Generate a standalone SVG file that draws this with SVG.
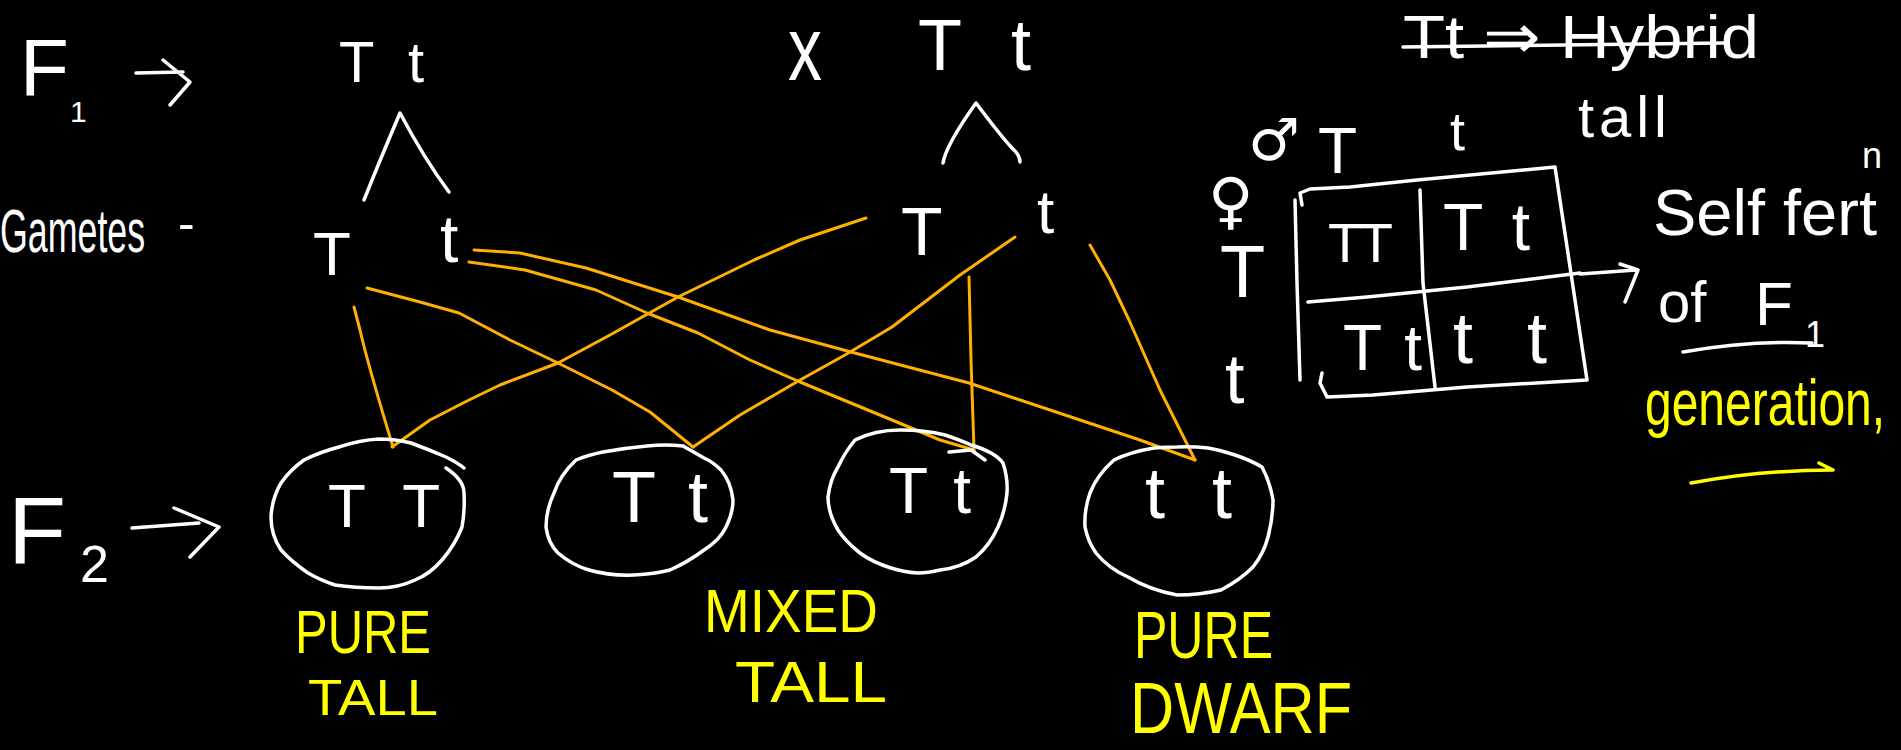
<svg xmlns="http://www.w3.org/2000/svg" width="1901" height="750" viewBox="0 0 1901 750">
<style>
.w{fill:#fff;font-family:"Liberation Sans",Arial,sans-serif}
.s{font-family:"DejaVu Sans",sans-serif;fill:#fff}
.y{fill:#ffff00;font-family:"Liberation Sans",Arial,sans-serif}
.ln{fill:none;stroke:#fff;stroke-width:3.5;stroke-linecap:round;stroke-linejoin:round}
.yl{fill:none;stroke:#ffff00;stroke-width:3.5;stroke-linecap:round;stroke-linejoin:round}
.or{fill:none;stroke:#ffb000;stroke-width:3;stroke-linecap:round;stroke-linejoin:round}
</style>
<rect width="1901" height="750" fill="#000"/>

<g id="f1-label">
<text class="w" x="20" y="95" font-size="80">F<tspan x="70" y="122" font-size="30">1</tspan></text>
<path class="ln" d="M136,73 L183,72 M163,60 L190,82 L170,105"/>
</g>

<g id="parent-left">
<text class="w" x="339" y="82" font-size="58" textLength="85" lengthAdjust="spacing">Tt</text>
<path class="ln" d="M364,200 Q380,160 400,113 Q425,160 449,192"/>
</g>

<g id="cross-sign">
<text class="w" x="788" y="80" font-size="90" textLength="34" lengthAdjust="spacingAndGlyphs">x</text>
</g>

<g id="parent-right">
<text class="w" x="918" y="70" font-size="72" textLength="113" lengthAdjust="spacing">Tt</text>
<path class="ln" d="M943,163 Q946,145 976,103 Q1000,135 1012,148 Q1020,155 1020,162"/>
</g>

<g id="gametes-label">
<text class="w" font-size="62" transform="translate(0,252) scale(0.577,1)">Gametes</text>
<text class="w" x="178" y="240" font-size="50">-</text>
</g>

<g id="gamete-left-T"><text class="w" x="313" y="275" font-size="62">T</text></g>
<g id="gamete-left-t"><text class="w" x="440" y="262" font-size="66">t</text></g>
<g id="gamete-right-T"><text class="w" x="901" y="255" font-size="68">T</text></g>
<g id="gamete-right-t"><text class="w" x="1037" y="233" font-size="62">t</text></g>

<g id="connectors">
<path class="or" d="M354,307 L360,330 Q368,365 393,447"/>
<path class="or" d="M367,288 L420,302 L459,313 L510,340 L558,363 L612,390 L650,412 L693,447"/>
<path class="or" d="M866,218 L800,240 L754,260 L678,297 L610,335 L558,363 L500,385 L469,400 L430,420 L392,447"/>
<path class="or" d="M1015,237 L960,275 L892,327 L845,355 L800,380 L740,415 L693,447"/>
<path class="or" d="M969,277 L971,360 L974,450"/>
<path class="or" d="M474,250 L520,253 L586,268 L678,297 L770,330 L851,352 L969,383 L1080,420 L1140,440 L1195,460"/>
<path class="or" d="M1090,245 L1110,280 L1129,320 L1160,390 L1195,460"/>
<path class="or" d="M469,262 L525,270 L596,290 L647,313 L698,333 L750,360 L800,382 L892,420 L940,440 L974,450"/>
</g>

<g id="f2-label">
<text class="w" x="8" y="563" font-size="95">F<tspan x="80" y="582" font-size="52">2</tspan></text>
<path class="ln" d="M132,528 L199,523 M174,508 L219,527 L190,557"/>
</g>

<g id="offspring-TT">
<path class="ln" d="M446,468 Q464,480 464,493 Q465,510 462,527 Q455,545 442,560 Q430,574 415,580 Q398,588 379,588 Q355,588 335,585 Q320,580 308,573 Q292,562 281,550 Q271,535 271,517 Q272,498 281,483 Q290,470 304,460 Q320,452 339,447 Q360,440 379,439 Q395,439 411,443 Q430,450 446,457 Q458,463 464,468"/>
<text class="w" x="328" y="527" font-size="62" textLength="112" lengthAdjust="spacing">TT</text>
<text class="y" x="295" y="653" font-size="62" textLength="136" lengthAdjust="spacingAndGlyphs">PURE</text>
<text class="y" x="308" y="715" font-size="50" textLength="130" lengthAdjust="spacingAndGlyphs">TALL</text>
</g>

<g id="offspring-Tt-1">
<path class="ln" d="M576,460 Q560,475 554,493 Q546,510 546,527 Q548,543 558,553 Q572,565 589,570 Q610,576 634,575 Q655,574 670,570 Q688,562 704,550 Q720,540 726,527 Q733,513 733,500 Q731,482 721,470 Q713,462 704,458 Q690,450 683,446 Q665,444 647,446 Q625,448 603,452 Q588,455 576,460"/>
<text class="w" x="612" y="522" font-size="72" textLength="96" lengthAdjust="spacing">Tt</text>
</g>

<g id="offspring-Tt-2">
<path class="ln" d="M971,445 Q995,452 1003,463 Q1008,478 1007,493 Q1005,512 998,527 Q990,545 976,557 Q960,568 940,570 Q928,573 918,573 Q903,572 891,568 Q872,562 860,553 Q846,542 838,530 Q828,513 828,497 Q830,480 838,467 Q845,452 855,440 Q875,430 900,430 Q925,430 945,435 Q960,440 971,445 M949,452 L971,450 L985,460"/>
<text class="w" x="889" y="513" font-size="64" textLength="82" lengthAdjust="spacing">Tt</text>
<text class="y" x="704" y="632" font-size="62" textLength="174" lengthAdjust="spacingAndGlyphs">MIXED</text>
<text class="y" x="735" y="702" font-size="58" textLength="152" lengthAdjust="spacingAndGlyphs">TALL</text>
</g>

<g id="offspring-tt">
<path class="ln" d="M1154,448 Q1130,452 1114,460 Q1097,475 1090,493 Q1084,510 1085,527 Q1088,542 1096,553 Q1108,568 1128,577 Q1150,590 1177,595 Q1200,595 1221,590 Q1240,580 1253,567 Q1264,553 1268,537 Q1273,518 1273,500 Q1270,482 1262,467 Q1250,460 1235,455 Q1220,450 1208,448 Q1190,446 1177,447 Q1165,447 1154,448"/>
<text class="w" x="1145" y="518" font-size="72" textLength="87" lengthAdjust="spacing">tt</text>
<text class="y" x="1134" y="658" font-size="66" textLength="139" lengthAdjust="spacingAndGlyphs">PURE</text>
<text class="y" x="1130" y="733" font-size="72" textLength="222" lengthAdjust="spacingAndGlyphs">DWARF</text>
</g>

<g id="hybrid-note">
<text class="w" x="1403" y="58" font-size="62" textLength="356" lengthAdjust="spacingAndGlyphs">Tt ⇒ Hybrid</text>
<path class="ln" d="M1403,47 L1723,43"/>
<text class="w" x="1578" y="137" font-size="58" textLength="89" lengthAdjust="spacing">tall</text>
</g>

<g id="punnett-square">
<text class="s" x="1248" y="160" font-size="58">♂</text>
<text class="s" x="1208" y="222" font-size="62">♀</text>
<text class="w" x="1318" y="173" font-size="64">T</text>
<text class="w" x="1450" y="150" font-size="54">t</text>
<text class="w" x="1220" y="297" font-size="74">T</text>
<text class="w" x="1225" y="403" font-size="70">t</text>
<path class="ln" d="M1302,205 L1300,193 L1310,189 L1350,187 L1417,180 L1555,167 L1575,300 L1587,380 L1467,387 L1373,395 L1327,397 L1320,383 L1322,373"/>
<path class="ln" d="M1295,200 L1297,283 L1300,380"/>
<path class="ln" d="M1420,190 L1423,283 L1435,387"/>
<path class="ln" d="M1308,302 L1367,297 L1467,287 L1580,273"/>
<text class="w" x="1328" y="262" font-size="56" textLength="65" lengthAdjust="spacing">TT</text>
<text class="w" x="1443" y="250" font-size="66" textLength="87" lengthAdjust="spacing">Tt</text>
<text class="w" x="1343" y="370" font-size="64" textLength="79" lengthAdjust="spacing">Tt</text>
<text class="w" x="1453" y="363" font-size="72" textLength="94" lengthAdjust="spacing">tt</text>
</g>

<g id="self-fert-note">
<text class="w" x="1653" y="235" font-size="65">Self fert<tspan x="1862" y="168" font-size="36">n</tspan></text>
<path class="ln" d="M1580,274 L1636,270 M1620,264 L1638,270 L1625,302"/>
<text class="w" x="1658" y="322" font-size="58">of</text>
<text class="w" x="1755" y="325" font-size="62">F<tspan x="1805" y="347" font-size="36">1</tspan></text>
<path class="ln" d="M1683,352 Q1750,340 1812,343"/>
<text class="y" font-size="64" transform="translate(1645,425) scale(0.75,1)">generation,</text>
<path class="yl" d="M1691,483 Q1760,470 1833,470 M1819,463 L1833,470"/>
</g>
</svg>
